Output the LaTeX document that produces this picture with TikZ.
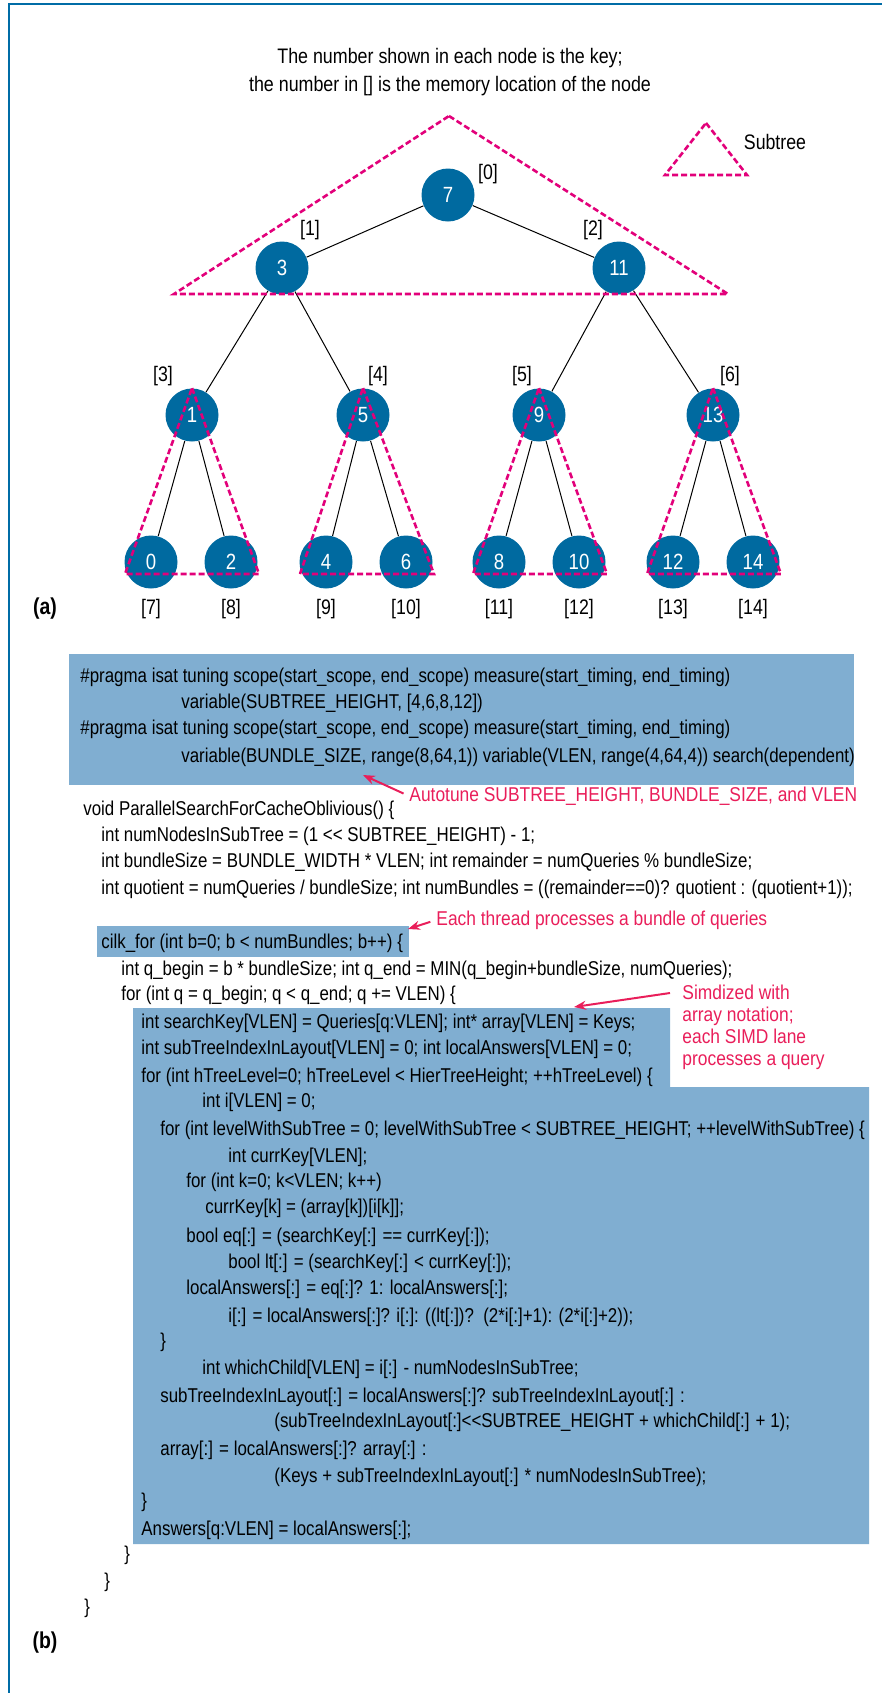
\documentclass[tikz,border=0pt]{standalone}
\usepackage{fontspec}
\newfontfamily\cond{Liberation Sans}[FakeStretch=0.845]
\newfontfamily\notefont{Liberation Sans}[FakeStretch=0.87]
\newfontfamily\titlefont{Liberation Sans}[FakeStretch=0.85]
\usepackage{tikz}
\usetikzlibrary{arrows.meta,calc}
\definecolor{nodeblue}{RGB}{0,106,160}
\definecolor{boxblue}{RGB}{128,174,209}
\definecolor{subpink}{RGB}{226,0,122}
\definecolor{notered}{RGB}{233,30,90}
\definecolor{frameblue}{RGB}{0,108,166}
\tikzset{>={Stealth[length=6pt,width=4.5pt]}}

\begin{document}
\begin{tikzpicture}[x=0.5pt,y=-0.5pt,
  key/.style={circle,fill=nodeblue,text=white,minimum size=26.5pt,inner sep=0pt,font=\cond\fontsize{11}{12}\selectfont},
  loc/.style={inner sep=0pt,font=\cond\fontsize{10.5}{12}\selectfont},
  code/.style={anchor=west,inner sep=0pt,text height=7.5pt,text depth=2.2pt,font=\cond\fontsize{10}{12}\selectfont},
  note/.style={anchor=west,inner sep=0pt,text=notered,text height=7.5pt,text depth=2.2pt,font=\notefont\fontsize{10}{10.9}\selectfont},
  subtree/.style={draw=subpink,line width=1.3pt,dash pattern=on 3pt off 1.5pt},
  hl/.style={fill=boxblue},
  arr/.style={->,draw=notered,fill=notered,line width=1pt}]

\useasboundingbox (0,0) rectangle (882,1693);
\draw[frameblue,line width=1.2pt] (882,4) -- (9,4) -- (9,1693);

% (a) the tree
\node[align=center,inner sep=0pt,font=\titlefont\fontsize{10.5}{14}\selectfont] (title) at (450,72)
  {The number shown in each node is the key;\\the number in [] is the memory location of the node};

\node[key] (k7) at (448,195) {7};
\node[key] (k3) at (282,268) {3};
\node[key] (k11) at (619,268) {11};
\node[key] (k1) at (192,415) {1};
\node[key] (k5) at (363,415) {5};
\node[key] (k9) at (539,415) {9};
\node[key] (k13) at (713,415) {13};

\node[loc] (m0) at (488,174) {[0]};
\node[loc] (m1) at (310,230) {[1]};
\node[loc] (m2) at (593,230) {[2]};
\node[loc] (m3) at (163,376) {[3]};
\node[loc] (m4) at (378,376) {[4]};
\node[loc] (m5) at (522,376) {[5]};
\node[loc] (m6) at (730,376) {[6]};

\foreach \k/\x/\m in {0/151/7,2/231/8,4/326/9,6/406/10,8/499/11,10/579/12,12/673/13,14/753/14}{
  \node[key] (k\k) at (\x,562) {\k};
  \node[loc] (m\m) at (\x,609) {[\m]};
}

\foreach \p/\c in {k7/k3,k7/k11,k3/k1,k3/k5,k11/k9,k11/k13,k1/k0,k1/k2,k5/k4,k5/k6,k9/k8,k9/k10,k13/k12,k13/k14}
  \draw[line width=0.5pt] (\p) -- (\c);

\draw[subtree] (449,116) -- (728,294) -- (174,294) -- cycle;
\foreach \r/\a/\b in {k1/k0/k2,k5/k4/k6,k9/k8/k10,k13/k12/k14}
  \draw[subtree] (\r.north) -- ($(\b)+(28,12)$) -- ($(\a)+(-26,12)$) -- cycle;

\draw[subtree] (706,123) -- (747,175) -- (665,175) -- cycle;
\node[loc] (legend) at (775,142) {Subtree};

\node[inner sep=0pt,font=\cond\bfseries\fontsize{11.5}{12}\selectfont] (parta) at (45,609) {(a)};

% (b) the code
\fill[hl] (69,654) rectangle (854,785);
\fill[hl] (97,926) rectangle (409,957);
\fill[hl] (133,1008) -- (670,1008) -- (670,1087) -- (869,1087) -- (869,1544) -- (133,1544) -- cycle;

\node[code] (l1) at (80,677) {\#pragma isat tuning scope(start\_scope, end\_scope) measure(start\_timing, end\_timing)};
\node[code] (l2) at (181,703) {variable(SUBTREE\_HEIGHT, [4,6,8,12])};
\node[code] (l3) at (80,729) {\#pragma isat tuning scope(start\_scope, end\_scope) measure(start\_timing, end\_timing)};
\node[code] (l4) at (181,757) {variable(BUNDLE\_SIZE, range(8,64,1)) variable(VLEN, range(4,64,4)) search(dependent)};
\node[code] (l5) at (83,810) {void ParallelSearchForCacheOblivious() \{};
\node[code] (l6) at (101,836) {int numNodesInSubTree = (1 << SUBTREE\_HEIGHT) - 1;};
\node[code] (l7) at (101,862) {int bundleSize = BUNDLE\_WIDTH * VLEN; int remainder = numQueries \% bundleSize;};
\node[code] (l8) at (101,889) {int quotient = numQueries / bundleSize; int numBundles = ((remainder==0)? quotient : (quotient+1));};
\node[code] (l9) at (101,943) {cilk\_for (int b=0; b < numBundles; b++) \{};
\node[code] (l10) at (121,970) {int q\_begin = b * bundleSize; int q\_end = MIN(q\_begin+bundleSize, numQueries);};
\node[code] (l11) at (121,995) {for (int q = q\_begin; q < q\_end; q += VLEN) \{};
\node[code] (l12) at (141,1023) {int searchKey[VLEN] = Queries[q:VLEN]; int* array[VLEN] = Keys;};
\node[code] (l13) at (141,1049) {int subTreeIndexInLayout[VLEN] = 0; int localAnswers[VLEN] = 0;};
\node[code] (l14) at (141,1077) {for (int hTreeLevel=0; hTreeLevel < HierTreeHeight; ++hTreeLevel) \{};
\node[code] (l15) at (202,1102) {int i[VLEN] = 0;};
\node[code] (l16) at (160,1130) {for (int levelWithSubTree = 0; levelWithSubTree < SUBTREE\_HEIGHT; ++levelWithSubTree) \{};
\node[code] (l17) at (228,1157) {int currKey[VLEN];};
\node[code] (l18) at (186,1182) {for (int k=0; k<VLEN; k++)};
\node[code] (l19) at (205,1208) {currKey[k] = (array[k])[i[k]];};
\node[code] (l20) at (186,1237) {bool eq[:] = (searchKey[:] == currKey[:]);};
\node[code] (l21) at (228,1263) {bool lt[:] = (searchKey[:] < currKey[:]);};
\node[code] (l22) at (186,1289) {localAnswers[:] = eq[:]? 1: localAnswers[:];};
\node[code] (l23) at (228,1317) {i[:] = localAnswers[:]? i[:]: ((lt[:])?~~(2*i[:]+1): (2*i[:]+2));};
\node[code] (l24) at (160,1342) {\}};
\node[code] (l25) at (202,1369) {int whichChild[VLEN] = i[:] - numNodesInSubTree;};
\node[code] (l26) at (160,1397) {subTreeIndexInLayout[:] = localAnswers[:]? subTreeIndexInLayout[:] :};
\node[code] (l27) at (274,1422) {(subTreeIndexInLayout[:]<<SUBTREE\_HEIGHT + whichChild[:] + 1);};
\node[code] (l28) at (160,1450) {array[:] = localAnswers[:]? array[:] :};
\node[code] (l29) at (274,1477) {(Keys + subTreeIndexInLayout[:] * numNodesInSubTree);};
\node[code] (l30) at (141,1502) {\}};
\node[code] (l31) at (141,1530) {Answers[q:VLEN] = localAnswers[:];};
\node[code] (l32) at (124,1555) {\}};
\node[code] (l33) at (104,1582) {\}};
\node[code] (l34) at (84,1608) {\}};

\node[inner sep=0pt,font=\cond\bfseries\fontsize{11.5}{12}\selectfont] (partb) at (45,1643) {(b)};

% notes
\node[note] (atune) at (409,796) {Autotune SUBTREE\_HEIGHT, BUNDLE\_SIZE, and VLEN};
\node[note] (bundle) at (436,920) {Each thread processes a bundle of queries};
\node[note,anchor=north west,align=left,text height=,text depth=] (simd) at (682,985)
  {Simdized with\\array notation;\\each SIMD lane\\processes a query};

\coordinate (p1) at (363,775);
\coordinate (p2) at (408,929);
\coordinate (t3) at (670,993);
\coordinate (p3) at (574,1007);
\draw[arr,shorten <=3pt] (atune.west) -- (p1);
\draw[arr,shorten <=3pt] (bundle.west) -- (p2);
\draw[arr] (t3) -- (p3);

\end{tikzpicture}
\end{document}
